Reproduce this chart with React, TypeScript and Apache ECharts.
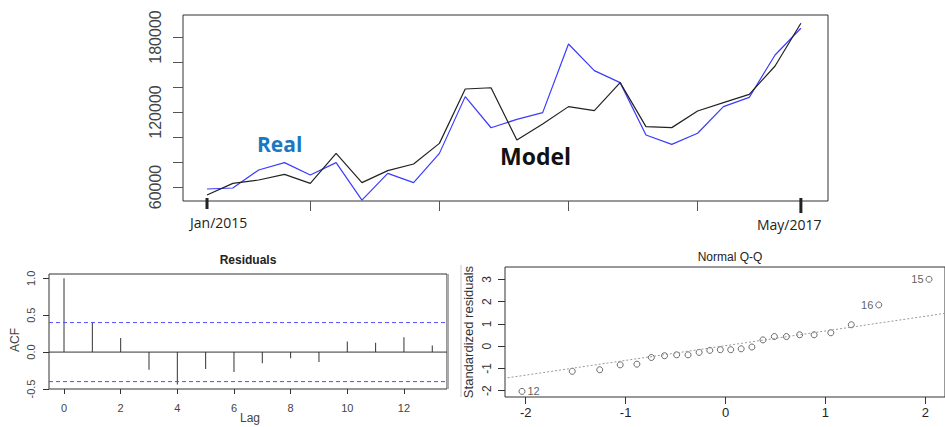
import React, { useEffect, useRef } from "react";
import * as echarts from "echarts";

// ---- Top panel: Real vs Model (24 monthly points, Jan/2015 .. May/2017)
const timeIndex = [1, 2, 3, 4, 5, 6, 7, 8, 9, 10, 11, 12, 13, 14, 15, 16, 17, 18, 19, 20, 21, 22, 23, 24];
const realValues = [58400, 59200, 73600, 79500, 69600, 79500, 49500, 70900, 63500, 86900, 132300, 107400,
  114100, 119500, 174400, 153100, 143500, 101600, 94100, 103000, 124300, 131700, 165600, 187000];
const modelValues = [53600, 62900, 65600, 70100, 62900, 86900, 63500, 73100, 78400, 94900, 138400, 139400,
  97600, 110400, 124300, 121100, 143500, 108300, 107500, 120800, 127500, 134100, 156800, 191000];
const topYTicks = [60000, 80000, 100000, 120000, 140000, 160000, 180000];
const topYLabels = [60000, 120000, 180000];
const topXTicks = [5, 10, 15, 20];
const startLabel = "Jan/2015";
const endLabel = "May/2017";

// ---- Bottom-left: ACF of residuals
const lags = [0, 1, 2, 3, 4, 5, 6, 7, 8, 9, 10, 11, 12, 13];
const acfValues = [1.0, 0.40, 0.19, -0.24, -0.44, -0.23, -0.27, -0.15, -0.085, -0.135, 0.145, 0.125, 0.20, 0.09];
const acfBound = 0.4;
const acfXTicks = [0, 2, 4, 6, 8, 10, 12];
const acfYTicks = [-0.5, 0, 0.5, 1.0];

// ---- Bottom-right: Normal Q-Q
const qqTheoretical = [-2.037, -1.534, -1.259, -1.054, -0.887, -0.742, -0.610, -0.489, -0.375, -0.264, -0.157, -0.052,
  0.052, 0.157, 0.264, 0.375, 0.489, 0.610, 0.742, 0.887, 1.054, 1.259, 1.534, 2.037];
const qqSample = [-2.03, -1.13, -1.06, -0.84, -0.81, -0.51, -0.43, -0.39, -0.39, -0.28, -0.19, -0.16,
  -0.16, -0.12, -0.04, 0.28, 0.43, 0.43, 0.51, 0.51, 0.60, 0.96, 1.85, 3.0];
const qqPointLabels = ["12", "", "", "", "", "", "", "", "", "", "", "", "", "", "", "", "", "", "", "", "", "", "16", "15"];
const qqLineX = [-2.3, 2.3];
const qqLineY = [-1.50, 1.54];
const qqXTicks = [-2, -1, 0, 1, 2];
const qqYTicks = [-2, -1, 0, 1, 2, 3];

const SANS = "'Liberation Sans', Arial, sans-serif";
const CAL = "'Open Sans', 'Noto Sans', sans-serif";

const ACF_XMIN = -0.53;
const ACF_XMAX = 13.52;

export default function App() {
  const ref = useRef<HTMLDivElement>(null);

  useEffect(() => {
    const chart = echarts.init(ref.current!, null, { renderer: "svg" });
    const hiddenLine = { show: false, onZero: false };
    const boundSeries = (v: number) => ({
      type: "line", xAxisIndex: 1, yAxisIndex: 1, symbol: "none", silent: true,
      data: [[ACF_XMIN, v], [ACF_XMAX, v]],
      lineStyle: { color: "#4f4fff", type: [4, 3], width: 1 },
      itemStyle: { color: "#4f4fff" },
    });
    const option: any = {
      animation: false,
      backgroundColor: "#ffffff",
      grid: [
        { left: 183, top: 15, width: 645, height: 186, show: true, borderColor: "#333", borderWidth: 1 },
        { left: 49, top: 274, width: 398, height: 115, show: true, borderColor: "#333", borderWidth: 1 },
        { left: 505, top: 267, width: 451, height: 130, show: true, borderColor: "#333", borderWidth: 1 },
      ],
      xAxis: [
        {
          gridIndex: 0, type: "value", min: 0.07, max: 25.05,
          axisLine: hiddenLine,
          axisTick: { show: true, customValues: topXTicks, length: 10, lineStyle: { color: "#555" } },
          axisLabel: { show: false },
          splitLine: { show: false },
        },
        {
          gridIndex: 1, type: "value", min: ACF_XMIN, max: ACF_XMAX,
          axisLine: hiddenLine,
          axisTick: { show: true, customValues: acfXTicks, length: 5, lineStyle: { color: "#333" } },
          axisLabel: { customValues: acfXTicks, margin: 13, fontSize: 11, color: "#444", fontFamily: SANS },
          splitLine: { show: false },
        },
        {
          gridIndex: 2, type: "value", min: -2.207, max: 2.197,
          axisLine: hiddenLine,
          axisTick: { show: true, customValues: qqXTicks, length: 7, lineStyle: { color: "#333" } },
          axisLabel: { customValues: qqXTicks, margin: 9, fontSize: 13, color: "#222", fontFamily: SANS },
          splitLine: { show: false },
        },
      ],
      yAxis: [
        {
          gridIndex: 0, type: "value", min: 48800, max: 197600,
          axisLine: hiddenLine,
          axisTick: { show: true, customValues: topYTicks, length: 10, lineStyle: { color: "#555" } },
          axisLabel: {
            customValues: topYLabels, rotate: 90, margin: 20, fontSize: 16, color: "#444", fontFamily: SANS,
            formatter: (v: number) => String(v),
          },
          splitLine: { show: false },
        },
        {
          gridIndex: 1, type: "value", min: -0.5, max: 1.058,
          axisLine: hiddenLine,
          axisTick: { show: true, customValues: acfYTicks, length: 6, lineStyle: { color: "#333" } },
          axisLabel: {
            customValues: acfYTicks, rotate: 90, margin: 13, fontSize: 11, color: "#444", fontFamily: SANS,
            formatter: (v: number) => v.toFixed(1),
          },
          splitLine: { show: false },
        },
        {
          gridIndex: 2, type: "value", min: -2.283, max: 3.552,
          axisLine: hiddenLine,
          axisTick: { show: true, customValues: qqYTicks, length: 7, lineStyle: { color: "#333" } },
          axisLabel: {
            customValues: qqYTicks, rotate: 90, margin: 12, fontSize: 12, color: "#333", fontFamily: SANS,
          },
          splitLine: { show: false },
        },
      ],
      series: [
        {
          name: "Real", type: "line", xAxisIndex: 0, yAxisIndex: 0, symbol: "none",
          data: timeIndex.map((t, i) => [t, realValues[i]]),
          lineStyle: { color: "#3b3bff", width: 1.2 }, itemStyle: { color: "#3b3bff" },
        },
        {
          name: "Model", type: "line", xAxisIndex: 0, yAxisIndex: 0, symbol: "none",
          data: timeIndex.map((t, i) => [t, modelValues[i]]),
          lineStyle: { color: "#222", width: 1.2 }, itemStyle: { color: "#222" },
        },
        {
          name: "ACFZero", type: "line", xAxisIndex: 1, yAxisIndex: 1, symbol: "none", silent: true,
          data: [[ACF_XMIN, 0], [ACF_XMAX, 0]],
          lineStyle: { color: "#333", width: 1 }, itemStyle: { color: "#333" },
        },
        boundSeries(acfBound),
        boundSeries(-acfBound),
        {
          name: "ACF", type: "bar", xAxisIndex: 1, yAxisIndex: 1, barWidth: 1,
          data: lags.map((l, i) => [l, acfValues[i]]),
          itemStyle: { color: "#333" },
        },
        {
          name: "QQLine", type: "line", xAxisIndex: 2, yAxisIndex: 2, symbol: "none",
          data: qqLineX.map((x, i) => [x, qqLineY[i]]),
          lineStyle: { color: "#999", type: [2, 2], width: 1 },
        },
        {
          name: "QQ", type: "scatter", xAxisIndex: 2, yAxisIndex: 2, symbol: "circle", symbolSize: 6,
          itemStyle: { color: "#ffffff", borderColor: "#333", borderWidth: 0.9 },
          data: qqTheoretical.map((x, i) => ({
            value: [x, qqSample[i]],
            label: qqPointLabels[i]
              ? {
                  show: true, formatter: qqPointLabels[i], position: i === 0 ? "right" : "left",
                  distance: 2, fontSize: 11, color: "#333", fontFamily: SANS,
                }
              : { show: false },
          })),
        },
      ],
    };
    chart.setOption(option);

    const [janX, gridBottom] = chart.convertToPixel({ gridIndex: 0 }, [timeIndex[0], 48800]) as number[];
    const [mayX] = chart.convertToPixel({ gridIndex: 0 }, [timeIndex[timeIndex.length - 1], 48800]) as number[];

    chart.setOption({
      graphic: [
        { type: "line", shape: { x1: janX, y1: gridBottom - 3, x2: janX, y2: gridBottom + 8 }, style: { stroke: "#222", lineWidth: 3 } },
        { type: "line", shape: { x1: mayX, y1: gridBottom - 3, x2: mayX, y2: gridBottom + 12 }, style: { stroke: "#222", lineWidth: 3 } },
        { type: "text", x: janX - 17, y: 215, style: { text: startLabel, fontSize: 14, fontFamily: CAL, fill: "#222" } },
        { type: "text", x: mayX - 44, y: 217, style: { text: endLabel, fontSize: 14, fontFamily: CAL, fill: "#222" } },
        { type: "text", x: 257, y: 133, style: { text: "Real", fontSize: 21, fontWeight: "bold", fontFamily: CAL, fill: "#1a78c2" } },
        { type: "text", x: 500, y: 144, style: { text: "Model", fontSize: 23, fontWeight: "bold", fontFamily: CAL, fill: "#111" } },
        { type: "text", x: 248, y: 260, style: { text: "Residuals", fontSize: 12, fontWeight: "bold", fontFamily: SANS, fill: "#222", textAlign: "center", textVerticalAlign: "middle" } },
        { type: "text", x: 730, y: 257, style: { text: "Normal Q-Q", fontSize: 12, fontFamily: SANS, fill: "#222", textAlign: "center", textVerticalAlign: "middle" } },
        { type: "text", x: 15, y: 340, rotation: Math.PI / 2, style: { text: "ACF", fontSize: 12, fontFamily: SANS, fill: "#444", textAlign: "center", textVerticalAlign: "middle" } },
        { type: "text", x: 250, y: 418, style: { text: "Lag", fontSize: 12, fontFamily: SANS, fill: "#444", textAlign: "center", textVerticalAlign: "middle" } },
        { type: "text", x: 468, y: 332, rotation: Math.PI / 2, style: { text: "Standardized residuals", fontSize: 13, fontFamily: SANS, fill: "#333", textAlign: "center", textVerticalAlign: "middle" } },
        { type: "line", shape: { x1: 461, y1: 265, x2: 461, y2: 397 }, style: { stroke: "#c8c8c8", lineWidth: 1 } },
        { type: "line", shape: { x1: 448, y1: 274, x2: 448, y2: 389 }, style: { stroke: "#aaa", lineWidth: 2 } },
      ],
    });

    return () => chart.dispose();
  }, []);

  return (
    <div
      ref={ref}
      style={{ position: "absolute", left: 0, top: 0, width: 945, height: 427, overflow: "hidden" }}
    />
  );
}
